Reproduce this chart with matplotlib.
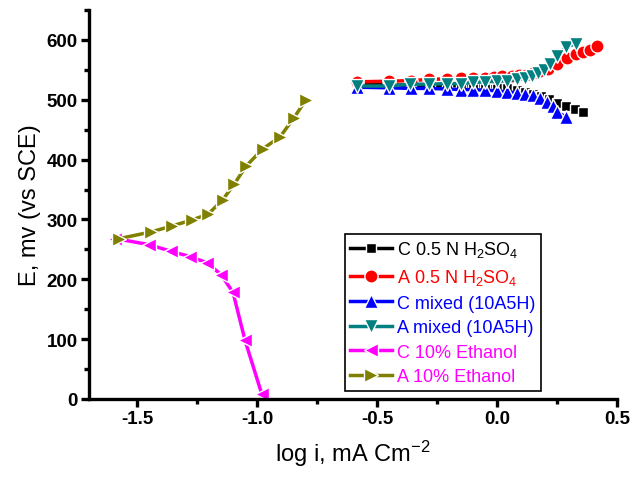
import matplotlib
matplotlib.use('Agg')
import matplotlib.pyplot as plt

plt.rcParams['font.family'] = ['Liberation Sans', 'DejaVu Sans']
plt.rcParams['mathtext.fontset'] = 'custom'
plt.rcParams['mathtext.rm'] = 'Liberation Sans'
plt.rcParams['mathtext.it'] = 'Liberation Sans:italic'
plt.rcParams['mathtext.bf'] = 'Liberation Sans:bold'

# C 0.5 N H2SO4 (cathodic)
c_h2so4_x = [-0.58, -0.45, -0.36, -0.28, -0.21, -0.15, -0.10, -0.05, 0.0, 0.04,
             0.082, 0.117, 0.149, 0.182, 0.218, 0.251, 0.288, 0.326, 0.36]
c_h2so4_y = [525, 525, 524, 524, 524, 523, 523, 523, 521, 519,
             517, 513, 510, 506, 501, 495, 489, 485, 480]

# A 0.5 N H2SO4 (anodic)
a_h2so4_x = [-0.582, -0.449, -0.36, -0.282, -0.21, -0.15, -0.101, -0.05, -0.0125, 0.02,
             0.061, 0.093, 0.121, 0.149, 0.179, 0.214, 0.249, 0.29, 0.329, 0.36,
             0.3875, 0.418]
a_h2so4_y = [530, 531, 532, 534, 535, 536, 537, 537, 538, 539,
             540, 541, 542, 545, 548, 552, 559, 569, 576, 580,
             584, 590]

# C mixed (10A5H)
c_mix_x = [-0.582, -0.449, -0.36, -0.282, -0.21, -0.15, -0.101, -0.05, 0.0, 0.04,
           0.082, 0.117, 0.149, 0.179, 0.207, 0.232, 0.249, 0.288]
c_mix_y = [521, 520, 519, 519, 518, 517, 517, 516, 515, 513,
           512, 510, 508, 503, 497, 489, 480, 471]

# A mixed (10A5H)
a_mix_x = [-0.582, -0.449, -0.363, -0.282, -0.21, -0.15, -0.099, -0.05, -0.001, 0.04,
           0.082, 0.117, 0.145, 0.172, 0.196, 0.221, 0.249, 0.288, 0.329]
a_mix_y = [523, 523, 526, 526, 527, 527, 529, 530, 531, 532,
           534, 536, 539, 544, 549, 559, 573, 588, 594]

# C 10% Ethanol
c_eth_x = [-1.59, -1.45, -1.36, -1.28, -1.21, -1.15, -1.10, -1.05, -0.98]
c_eth_y = [268, 258, 247, 238, 228, 208, 178, 98, 8]

# A 10% Ethanol
a_eth_x = [-1.574, -1.443, -1.355, -1.272, -1.203, -1.143, -1.095, -1.046, -0.976,
           -0.904, -0.846, -0.796]
a_eth_y = [268, 279, 289, 299, 309, 333, 359, 389, 418, 438, 470, 500]

series = [
    (c_h2so4_x, c_h2so4_y, 'C 0.5 N H$_2$SO$_4$', 'black', 's', 7.5, 'black'),
    (a_h2so4_x, a_h2so4_y, 'A 0.5 N H$_2$SO$_4$', 'red', 'o', 9.5, 'red'),
    (c_mix_x, c_mix_y, 'C mixed (10A5H)', 'blue', '^', 9.5, 'blue'),
    (a_mix_x, a_mix_y, 'A mixed (10A5H)', '#008080', 'v', 9.5, 'blue'),
    (c_eth_x, c_eth_y, 'C 10% Ethanol', '#FF00FF', '<', 9.5, '#FF00FF'),
    (a_eth_x, a_eth_y, 'A 10% Ethanol', '#808000', '>', 9.5, '#FF00FF'),
]

fig = plt.figure(figsize=(6.35, 4.85), dpi=100)
ax = fig.add_axes([0.1402, 0.1753, 0.8315, 0.802])

text_colors = []
for x, y, lab, col, mk, ms, tcol in series:
    ax.plot(x, y, color=col, lw=2.5, marker=mk, ms=ms, mfc=col,
            mec='white', mew=1.0, label=lab)
    text_colors.append(tcol)

ax.set_xlim(-1.7, 0.5)
ax.set_ylim(0, 650)
ax.set_xticks([-1.5, -1.0, -0.5, 0.0, 0.5])
ax.set_xticklabels(['-1.5', '-1.0', '-0.5', '0.0', '0.5'])
ax.set_xticks([-1.25, -0.75, -0.25, 0.25], minor=True)
ax.set_yticks([0, 100, 200, 300, 400, 500, 600])
ax.set_yticks([50, 150, 250, 350, 450, 550, 650], minor=True)

for s in ['top', 'right']:
    ax.spines[s].set_visible(False)
for s in ['left', 'bottom']:
    ax.spines[s].set_linewidth(2.4)

ax.tick_params(which='major', direction='out', length=6, width=2.4,
               labelsize=13.5, pad=2)
ax.tick_params(which='minor', direction='out', length=3.5, width=2.4)
for lbl in ax.get_xticklabels() + ax.get_yticklabels():
    lbl.set_fontweight('bold')

ax.set_xlabel('log i, mA Cm$^{-2}$', fontsize=17, labelpad=8)
ax.set_ylabel('E, mv (vs SCE)', fontsize=17, labelpad=4)

leg = ax.legend(loc='lower left', bbox_to_anchor=(345 / 635, (485 - 391.7) / 485),
                bbox_transform=fig.transFigure, fontsize=13, frameon=True,
                fancybox=False, edgecolor='black', framealpha=1,
                handlelength=2.3, handletextpad=0.27, labelspacing=0.42,
                borderpad=0.3, borderaxespad=0)
leg.get_frame().set_linewidth(1.2)
for t, c in zip(leg.get_texts(), text_colors):
    t.set_color(c)

fig.savefig('out.png', dpi=100)
